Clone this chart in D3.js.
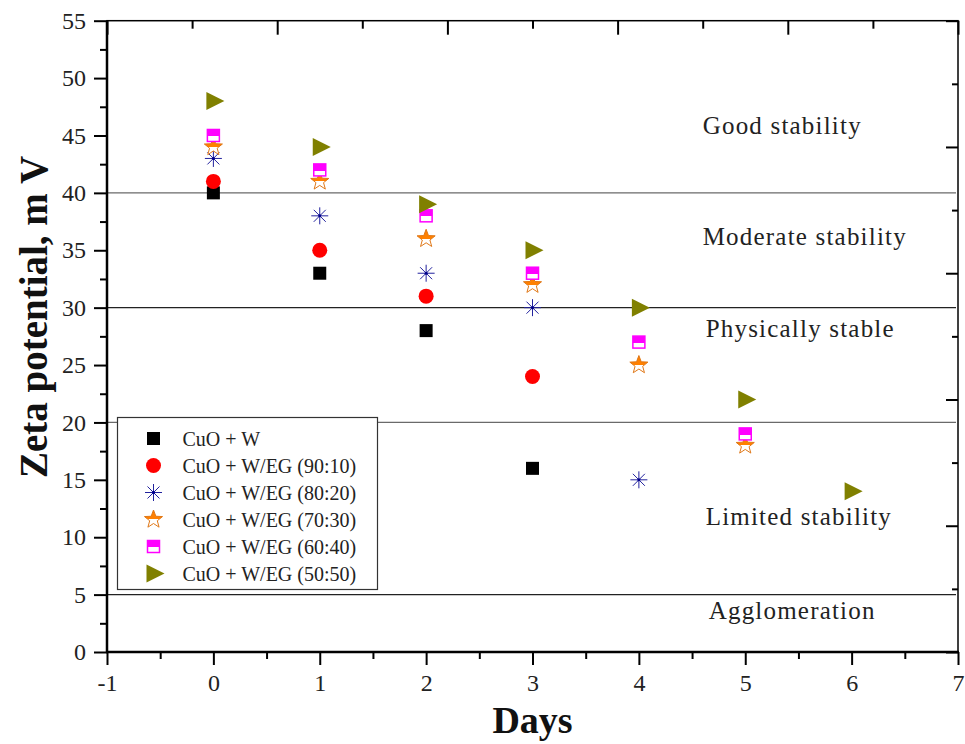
<!DOCTYPE html>
<html>
<head>
<meta charset="utf-8">
<script src="https://cdn.jsdelivr.net/npm/d3@7"></script>
<style>
  body { margin: 0; background: #fff; }
  text { font-family: 'Liberation Serif', 'Times New Roman', serif; }
</style>
</head>
<body>
<div id="chart"></div>
<script>
// Data
const days = [0, 1, 2, 3, 4, 5, 6]
const seriesNames = [
  'CuO + W',
  'CuO + W/EG (90:10)',
  'CuO + W/EG (80:20)',
  'CuO + W/EG (70:30)',
  'CuO + W/EG (60:40)',
  'CuO + W/EG (50:50)'
]
const cuoW = [40, 33, 28, 16, null, null, null]
const eg9010 = [41, 35, 31, 24, null, null, null]
const eg8020 = [43, 38, 33, 30, 15, null, null]
const eg7030 = [44, 41, 36, 32, 25, 18, null]
const eg6040 = [45, 42, 38, 33, 27, 19, null]
const eg5050 = [48, 44, 39, 35, 30, 22, 14]
const seriesValues = [cuoW, eg9010, eg8020, eg7030, eg6040, eg5050]

const xTicks = [-1, 0, 1, 2, 3, 4, 5, 6, 7]
const yTicks = [0, 5, 10, 15, 20, 25, 30, 35, 40, 45, 50, 55]
const levelLines = [40, 30, 20, 5]
const zoneLabels = ['Good stability', 'Moderate stability', 'Physically stable', 'Limited stability', 'Agglomeration']
const zoneLabelY = [45.1, 35.45, 27.4, 11.06, 2.9]

function draw() {
  // Dimensions
  let dimensions = {
    width: 965,
    height: 744,
    margin: { top: 20.7, bottom: 92, left: 107, right: 7 }
  }
  dimensions.ctrWidth = dimensions.width - dimensions.margin.left - dimensions.margin.right
  dimensions.ctrHeight = dimensions.height - dimensions.margin.top - dimensions.margin.bottom

  const svg = d3.select('#chart')
    .append('svg')
    .attr('width', dimensions.width)
    .attr('height', dimensions.height)

  const defs = svg.append('defs')
  const halfFill = (id, color, stop) => {
    const g = defs.append('linearGradient').attr('id', id)
      .attr('x1', 0).attr('y1', 0).attr('x2', 0).attr('y2', 1)
    g.append('stop').attr('offset', stop).attr('stop-color', color)
    g.append('stop').attr('offset', stop).attr('stop-color', '#fff')
  }
  halfFill('half-orange', '#ff8000', 0.55)
  halfFill('half-magenta', '#ff00ff', 0.55)

  const ctr = svg.append('g')
    .attr('transform', `translate(${dimensions.margin.left}, ${dimensions.margin.top})`)

  // Scales
  const xScale = d3.scaleLinear().domain([-1, 7]).range([0, dimensions.ctrWidth])
  const yScale = d3.scaleLinear().domain([0, 55]).range([dimensions.ctrHeight, 0])
  // top and right frame ticks (5 divisions, unlabeled)
  const xTop = d3.scaleLinear().domain([0, 5]).range([0, dimensions.ctrWidth])
  const yRight = d3.scaleLinear().domain([0, 5]).range([dimensions.ctrHeight, 0])

  // level lines
  ctr.selectAll('.level')
    .data(levelLines)
    .join('line')
    .attr('x1', 0)
    .attr('x2', dimensions.ctrWidth - 2)
    .attr('y1', d => yScale(d))
    .attr('y2', d => yScale(d))
    .attr('stroke', (d, i) => i % 2 === 0 ? '#6a6a6a' : '#222')
    .attr('stroke-width', 1.2)

  // zone labels
  ctr.selectAll('.zone')
    .data(zoneLabels)
    .join('text')
    .attr('x', (d, i) => xScale(4.6) + (i >= 2 ? 3 : 0) + (i === 4 ? 3 : 0))
    .attr('y', (d, i) => yScale(zoneLabelY[i]))
    .attr('font-size', 25)
    .attr('letter-spacing', 1.2)
    .attr('fill', '#222')
    .text(d => d)

  // Axes
  const styleAxis = (g) => {
    g.select('.domain').remove()
    g.selectAll('line').attr('stroke', '#000').attr('stroke-width', 2)
    g.selectAll('text').attr('font-size', 24).attr('fill', '#222')
  }

  const xAxis = d3.axisBottom(xScale).tickValues(xTicks).tickSize(13).tickPadding(9)
    .tickFormat(d => String(d))
  ctr.append('g')
    .attr('transform', `translate(0, ${dimensions.ctrHeight})`)
    .call(xAxis).call(styleAxis)
  ctr.append('g')
    .attr('transform', `translate(0, ${dimensions.ctrHeight})`)
    .call(d3.axisBottom(xScale).tickValues(d3.range(-0.5, 7, 1)).tickSize(7).tickFormat(''))
    .call(styleAxis)

  const yAxis = d3.axisLeft(yScale).tickValues(yTicks).tickSize(13).tickPadding(8)
  ctr.append('g').call(yAxis).call(styleAxis)
  ctr.append('g')
    .call(d3.axisLeft(yScale).tickValues(d3.range(2.5, 55, 5)).tickSize(7).tickFormat(''))
    .call(styleAxis)

  // top axis ticks point inward
  ctr.append('g')
    .call(d3.axisTop(xTop).tickValues([0, 1, 2, 3, 4, 5]).tickSize(-14).tickFormat(''))
    .call(styleAxis)
  ctr.append('g')
    .call(d3.axisTop(xTop).tickValues([0.5, 1.5, 2.5, 3.5, 4.5]).tickSize(-8).tickFormat(''))
    .call(styleAxis)

  // right axis ticks point inward
  ctr.append('g')
    .attr('transform', `translate(${dimensions.ctrWidth}, 0)`)
    .call(d3.axisRight(yRight).tickValues([0, 1, 2, 3, 4, 5]).tickSize(-12).tickFormat(''))
    .call(styleAxis)
  ctr.append('g')
    .attr('transform', `translate(${dimensions.ctrWidth}, 0)`)
    .call(d3.axisRight(yRight).tickValues([0.5, 1.5, 2.5, 3.5, 4.5]).tickSize(-6).tickFormat(''))
    .call(styleAxis)

  // frame
  ctr.append('rect')
    .attr('width', dimensions.ctrWidth)
    .attr('height', dimensions.ctrHeight)
    .attr('fill', 'none')
    .attr('stroke', '#000')
    .attr('stroke-width', 1.5)
  ctr.append('line')
    .attr('x1', 0).attr('x2', 0).attr('y1', 0).attr('y2', dimensions.ctrHeight + 1)
    .attr('stroke', '#000').attr('stroke-width', 2.5)
  ctr.append('line')
    .attr('x1', -1).attr('x2', dimensions.ctrWidth + 1)
    .attr('y1', dimensions.ctrHeight).attr('y2', dimensions.ctrHeight)
    .attr('stroke', '#000').attr('stroke-width', 2.5)

  // Markers
  const starPath = (ro, ri) => {
    const pts = []
    for (let k = 0; k < 10; k++) {
      const r = k % 2 === 0 ? ro : ri
      const a = -Math.PI / 2 + k * Math.PI / 5
      pts.push([r * Math.cos(a), r * Math.sin(a)])
    }
    return 'M' + pts.map(p => p.join(',')).join('L') + 'Z'
  }

  const drawMarker = (sel, i) => {
    if (i === 0) {
      sel.append('rect').attr('x', -6.5).attr('y', -6.5).attr('width', 13).attr('height', 13)
        .attr('fill', '#000')
    } else if (i === 1) {
      sel.append('circle').attr('r', 7.5).attr('fill', '#ff0000')
    } else if (i === 2) {
      const r = 8.5
      ;[0, 45, 90, 135].forEach(a => {
        const rad = a * Math.PI / 180
        sel.append('line')
          .attr('x1', -r * Math.cos(rad)).attr('y1', -r * Math.sin(rad))
          .attr('x2', r * Math.cos(rad)).attr('y2', r * Math.sin(rad))
          .attr('stroke', '#22229e').attr('stroke-width', 1)
      })
      sel.append('circle').attr('r', 1.5).attr('fill', '#00008b')
    } else if (i === 3) {
      sel.append('path').attr('d', starPath(9.5, 4))
        .attr('fill', 'url(#half-orange)')
        .attr('stroke', '#e07818').attr('stroke-width', 1)
    } else if (i === 4) {
      sel.append('rect').attr('x', -6).attr('y', -6).attr('width', 12).attr('height', 12)
        .attr('fill', 'url(#half-magenta)')
        .attr('stroke', '#ff00ff').attr('stroke-width', 1.5)
    } else {
      sel.append('path').attr('d', 'M-7,-9L11,0L-7,9Z').attr('fill', '#808000')
    }
  }

  seriesValues.forEach((values, i) => {
    const pts = days.map((d, j) => ({ day: d, value: values[j] })).filter(p => p.value !== null)
    ctr.append('g')
      .selectAll('g')
      .data(pts)
      .join('g')
      .attr('transform', d => `translate(${xScale(d.day)}, ${yScale(d.value)})`)
      .each(function () { drawMarker(d3.select(this), i) })
  })

  // Legend
  const legend = svg.append('g').attr('transform', 'translate(117.5, 417.5)')
  legend.append('rect')
    .attr('width', 260).attr('height', 172)
    .attr('fill', '#fff').attr('stroke', '#333').attr('stroke-width', 1.2)
  seriesNames.forEach((name, i) => {
    const row = legend.append('g').attr('transform', `translate(36, ${21 + i * 27})`)
    drawMarker(row, i)
    row.append('text')
      .attr('x', 29).attr('y', 7)
      .attr('font-size', 20)
      .attr('fill', '#222')
      .text(name)
  })

  // Axis titles
  svg.append('text')
    .attr('transform', 'translate(47, 317) rotate(-90)')
    .attr('text-anchor', 'middle')
    .attr('font-size', 39)
    .attr('font-weight', 'bold')
    .attr('fill', '#111')
    .text('Zeta potential, m V')

  svg.append('text')
    .attr('x', dimensions.margin.left + xScale(3))
    .attr('y', 733)
    .attr('text-anchor', 'middle')
    .attr('font-size', 38)
    .attr('font-weight', 'bold')
    .attr('fill', '#111')
    .text('Days')
}

draw()
</script>
</body>
</html>
